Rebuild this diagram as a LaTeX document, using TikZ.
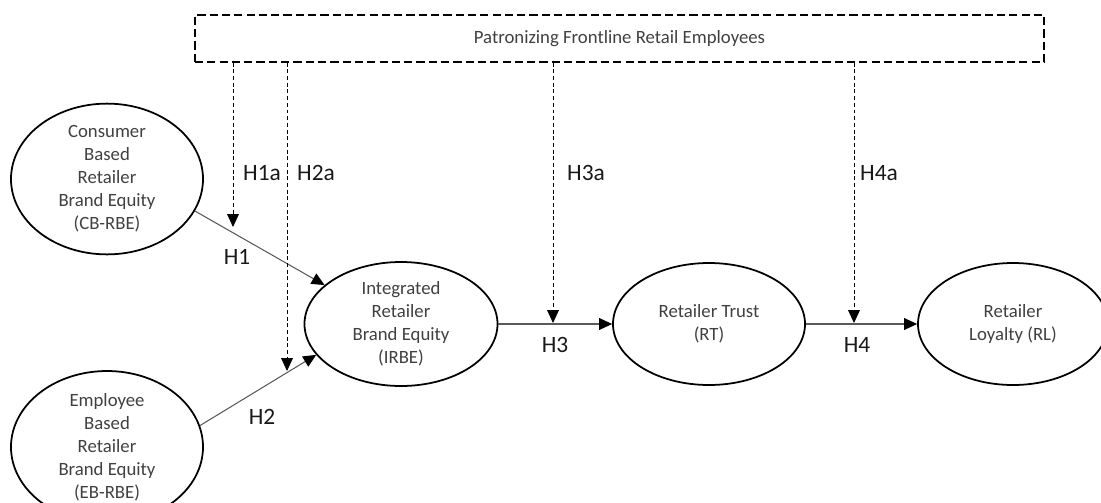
\documentclass[tikz,border=0pt]{standalone}
\usepackage{fontspec}
\setmainfont{Carlito}
\usetikzlibrary{shapes.geometric,arrows.meta}
\definecolor{txtgray}{HTML}{404040}
\definecolor{linegray}{HTML}{5A5A5A}

\begin{document}
\begin{tikzpicture}[x=0.03cm,y=-0.03cm,
    construct/.style={draw,ellipse,line width=1.5pt,inner sep=0pt,align=center,
      text=txtgray,font=\fontsize{16}{19.6}\selectfont},
    hyp/.style={draw=linegray,line width=0.9pt,-{Triangle[length=11pt,width=10pt,color=black]}},
    moder/.style={draw=black,dash pattern=on 3.4pt off 2.3pt,line width=0.6pt,
      -{Triangle[length=11pt,width=10pt,color=black]}},
    hlabel/.style={font=\fontsize{20}{24}\selectfont,text=black!90}]
  \useasboundingbox (0,0) rectangle (1101,502);
  % moderator box
  \node[draw,dash pattern=on 7pt off 3.5pt,line width=1.3pt,minimum width=25.47cm,
    minimum height=1.41cm,inner sep=0pt,text=txtgray,font=\fontsize{16}{19.6}\selectfont]
    (pfre) at (619.5,38.5) {Patronizing Frontline Retail Employees};
  % constructs
  \node[construct,minimum width=5.76cm,minimum height=3.66cm] (cbrbe) at (107,179)
    {Consumer\\Based\\Retailer\\Brand Equity\\(CB-RBE)};
  \node[construct,minimum width=5.76cm,minimum height=3.72cm] (ebrbe) at (107,447)
    {Employee\\Based\\Retailer\\Brand Equity\\(EB-RBE)};
  \node[construct,minimum width=5.79cm,minimum height=3.72cm] (irbe) at (401,324)
    {Integrated\\Retailer\\Brand Equity\\(IRBE)};
  \node[construct,minimum width=5.76cm,minimum height=3.66cm] (rt) at (709,324)
    {Retailer Trust\\(RT)};
  \node[construct,minimum width=5.7cm,minimum height=3.66cm] (rl) at (1013,324)
    {Retailer\\Loyalty (RL)};
  % direct paths
  \draw[hyp] (cbrbe.-20) -- (irbe.153);
  \draw[hyp] (ebrbe.13) -- (irbe.200);
  \draw[hyp] (irbe.east) -- (rt.west);
  \draw[hyp] (rt.east) -- (rl.west);
  % moderating paths
  \coordinate (m1) at (233,227);
  \coordinate (m2) at (287,371);
  \coordinate (m3) at (553,323);
  \coordinate (m4) at (854,323);
  \draw[moder] (pfre.south -| m1) -- (m1);
  \draw[moder] (pfre.south -| m2) -- (m2);
  \draw[moder] (pfre.south -| m3) -- (m3);
  \draw[moder] (pfre.south -| m4) -- (m4);
  % labels
  \node[hlabel] (h1a) at (262,173) {H1a};
  \node[hlabel] (h2a) at (316,173) {H2a};
  \node[hlabel] (h3a) at (586,173) {H3a};
  \node[hlabel] (h4a) at (879,173) {H4a};
  \node[hlabel] (h1) at (237,257) {H1};
  \node[hlabel] (h2) at (262,417) {H2};
  \node[hlabel] (h3) at (555,345) {H3};
  \node[hlabel] (h4) at (857,345) {H4};
\end{tikzpicture}
\end{document}
